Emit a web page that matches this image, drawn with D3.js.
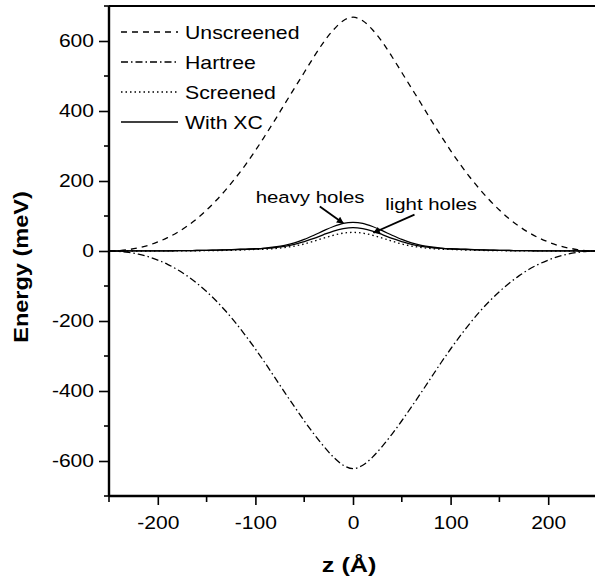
<!DOCTYPE html>
<html>
<head>
<meta charset="utf-8">
<script src="https://cdn.jsdelivr.net/npm/d3@7"></script>
<style>
  html, body { margin: 0; padding: 0; background: #fff; }
  svg { display: block; font-family: "Liberation Sans", Arial, Helvetica, sans-serif; }
</style>
</head>
<body>
<svg id="chart" width="595" height="580"></svg>
<script>
// ---------- data ----------
const zValues = [-250,-240,-230,-220,-210,-200,-190,-180,-170,-160,-150,-140,-130,-120,-110,-100,-90,-80,-70,-60,-50,-40,-30,-20,-10,
                 0,10,20,30,40,50,60,70,80,90,100,110,120,130,140,150,160,170,180,190,200,210,220,230,240,250];

const unscreened = [0,1,4,9,16,26,38,53,71,92,117,145,176,210,247,287,330,374,420,465,510,555,597,632,658,
                    668,658,632,597,555,510,465,420,374,330,287,247,210,176,145,117,92,71,53,38,26,16,9,4,1,0];

const hartree = [0,-1,-4,-9,-16,-26,-38,-53,-71,-92,-116,-143,-173,-206,-242,-280,-320,-362,-404,-445,-485,-523,-558,-589,-612,
                 -622,-612,-589,-558,-523,-485,-445,-404,-362,-320,-280,-242,-206,-173,-143,-116,-92,-71,-53,-38,-26,-16,-9,-4,-1,0];

const screened = [0,0,0,0,0,0.1,0.2,0.3,0.4,0.6,0.9,1.2,1.7,2.4,3.3,4.5,5,7,10,14,20,28,37,45,51,
                  53,51,45,37,28,20,14,10,7,5,4.5,3.3,2.4,1.7,1.2,0.9,0.6,0.4,0.3,0.2,0.1,0,0,0,0,0];

const xcHeavy = [0,0,0.1,0.2,0.3,0.4,0.6,0.8,1.1,1.5,2,2.7,3.5,4.5,5.5,6.5,8.5,11.5,16,23,33,45,58,70,79,
                 82,79,70,58,45,33,23,16,11.5,8.5,6.5,5.5,4.5,3.5,2.7,2,1.5,1.1,0.8,0.6,0.4,0.3,0.2,0.1,0,0];

const xcLight = [0,0,0.1,0.2,0.3,0.4,0.6,0.8,1.1,1.4,1.8,2.4,3.1,4,4.8,5.5,7.5,10,13.5,19,27,36,47,57,64,
                 67,64,57,47,36,27,19,13.5,10,7.5,5.5,4.8,4,3.1,2.4,1.8,1.4,1.1,0.8,0.6,0.4,0.3,0.2,0.1,0,0];

const seriesNames = ["Unscreened", "Hartree", "Screened", "With XC"];
const xTickLabels = [-200, -100, 0, 100, 200];
const yTickLabels = [-600, -400, -200, 0, 200, 400, 600];
const xMinorTicks = [-250, -150, -50, 50, 150, 250];
const yMinorTicks = [-700, -500, -300, -100, 100, 300, 500, 700];

// annotations in data coordinates: text anchor (tz,tE), arrow from (sz,sE) to (ez,eE)
const annotations = [
  { label: "heavy holes", tz: -44, tE: 138, sz: -34, sE: 127, ez: -10, eE: 79 },
  { label: "light holes", tz: 80,  tE: 118, sz: 63,  sE: 104, ez: 21,  eE: 52 }
];

// ---------- layout ----------
const svg = d3.select("#chart");
const SX = 1.17; // horizontal glyph widening to match the reference typeface
const fmt = d => String(d); // plain hyphen-minus like the reference

const x = d3.scaleLinear().domain([-250, 250]).range([109, 597]);
const y = d3.scaleLinear().domain([-700, 700]).range([496, 6]);

const styles = {
  Unscreened: { dash: "6,5" },
  Hartree:    { dash: "7,3,1.5,3" },
  Screened:   { dash: "1.5,3" },
  "With XC":  { dash: null }
};

const line = d3.line()
  .x((d, i) => x(zValues[i]))
  .y(d => y(d))
  .curve(d3.curveMonotoneX);

const plotted = [
  { data: unscreened, style: "Unscreened" },
  { data: hartree, style: "Hartree" },
  { data: screened, style: "Screened" },
  { data: xcLight, style: "With XC" },
  { data: xcHeavy, style: "With XC" }
];

const gLines = svg.append("g");
plotted.forEach(s => {
  gLines.append("path")
    .attr("d", line(s.data))
    .attr("fill", "none")
    .attr("stroke", "#000")
    .attr("stroke-width", 1.3)
    .attr("stroke-dasharray", styles[s.style].dash);
});

// ---------- axes ----------
const fsTick = 18;

const yAxis = d3.axisLeft(y).tickValues(yTickLabels).tickSize(10).tickPadding(0).tickFormat(fmt);
const gy = svg.append("g").attr("transform", `translate(${x(-250)},0)`).call(yAxis);
gy.select(".domain").remove();
gy.selectAll(".tick line").attr("stroke-width", 1.6);
gy.selectAll(".tick text")
  .attr("font-size", fsTick)
  .attr("font-family", "Liberation Sans, Arial, sans-serif")
  .attr("fill", "#000")
  .attr("x", -15 / SX)
  .attr("transform", `scale(${SX},1)`);
gy.selectAll(".minor").data(yMinorTicks).enter().append("line")
  .attr("x1", -5).attr("x2", 0)
  .attr("y1", d => y(d)).attr("y2", d => y(d))
  .attr("stroke", "#000").attr("stroke-width", 1.6);

const xAxis = d3.axisBottom(x).tickValues(xTickLabels).tickSize(9).tickPadding(0).tickFormat(fmt);
const gx = svg.append("g").attr("transform", `translate(0,${y(-700)})`).call(xAxis);
gx.select(".domain").remove();
gx.selectAll(".tick line").attr("stroke-width", 1.6);
gx.selectAll(".tick text")
  .attr("font-size", fsTick)
  .attr("font-family", "Liberation Sans, Arial, sans-serif")
  .attr("fill", "#000")
  .attr("y", 20)
  .attr("transform", `scale(${SX},1)`);
gx.selectAll(".minor").data(xMinorTicks).enter().append("line")
  .attr("y1", 0).attr("y2", 6)
  .attr("x1", d => x(d)).attr("x2", d => x(d))
  .attr("stroke", "#000").attr("stroke-width", 1.6);

// axis lines (left, bottom, top)
svg.append("line").attr("x1", x(-250)).attr("x2", x(-250)).attr("y1", y(700)).attr("y2", y(-700))
  .attr("stroke", "#000").attr("stroke-width", 2.4);
svg.append("line").attr("x1", x(-250)).attr("x2", x(250)).attr("y1", y(-700)).attr("y2", y(-700))
  .attr("stroke", "#000").attr("stroke-width", 2.4);
svg.append("line").attr("x1", x(-250)).attr("x2", x(250)).attr("y1", y(700)).attr("y2", y(700))
  .attr("stroke", "#000").attr("stroke-width", 2.2);

// axis titles
svg.append("text")
  .attr("transform", `translate(28,${(y(700) + y(-700)) / 2 + 16}) rotate(-90) scale(1.12,1)`)
  .attr("text-anchor", "middle")
  .attr("font-size", 21).attr("font-weight", "bold")
  .text("Energy (meV)");

svg.append("text")
  .attr("transform", `translate(${x(-4)},572) scale(1.2,1)`)
  .attr("text-anchor", "middle")
  .attr("font-size", 21).attr("font-weight", "bold")
  .text("z (Å)");

// ---------- legend ----------
const legend = svg.append("g");
seriesNames.forEach((name, i) => {
  const cy = 32 + i * 30;
  legend.append("line")
    .attr("x1", 121).attr("x2", 178).attr("y1", cy).attr("y2", cy)
    .attr("stroke", "#000").attr("stroke-width", 1.3)
    .attr("stroke-dasharray", styles[name].dash);
  legend.append("text")
    .attr("transform", `translate(185,${cy + 6.5}) scale(1.18,1)`)
    .attr("font-size", 18)
    .text(name);
});

// ---------- annotations ----------
const defs = svg.append("defs");
defs.append("marker").attr("id", "arrow")
  .attr("viewBox", "0 0 10 10").attr("refX", 9).attr("refY", 5)
  .attr("markerWidth", 9).attr("markerHeight", 7).attr("markerUnits", "userSpaceOnUse")
  .attr("orient", "auto")
  .append("path").attr("d", "M0,0 L10,5 L0,10 z").attr("fill", "#000");

annotations.forEach(a => {
  svg.append("text")
    .attr("transform", `translate(${x(a.tz)},${y(a.tE)}) scale(1.2,1)`)
    .attr("text-anchor", "middle")
    .attr("font-size", 17)
    .text(a.label);
  svg.append("line")
    .attr("x1", x(a.sz)).attr("y1", y(a.sE))
    .attr("x2", x(a.ez)).attr("y2", y(a.eE))
    .attr("stroke", "#000").attr("stroke-width", 1.8)
    .attr("marker-end", "url(#arrow)");
});
</script>
</body>
</html>
